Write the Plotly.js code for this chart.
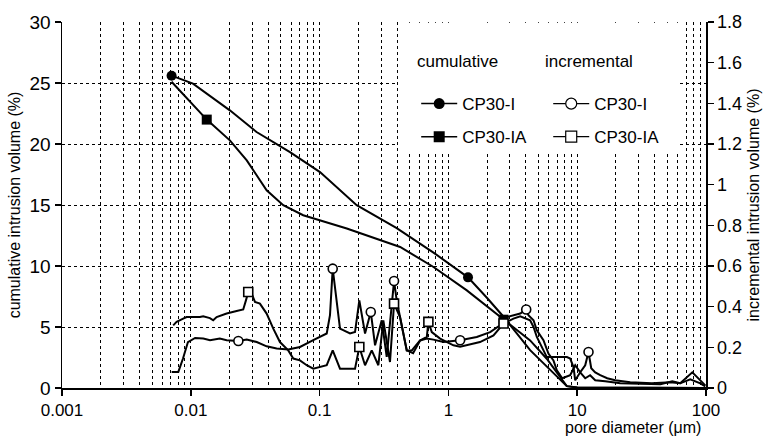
<!DOCTYPE html>
<html><head><meta charset="utf-8">
<script src="https://cdn.plot.ly/plotly-3.0.1.min.js"></script>
<style>html,body{margin:0;padding:0;background:#fff}#chart{width:767px;height:444px}</style>
</head><body><div id="chart"></div>
<script>
// ---- data (pore diameter in µm) ----
const cumIDiam   = [0.00709,0.0104,0.0201,0.0324,0.0589,0.1007,0.194,0.397,0.766,1.42,1.99,2.7,4.31,5.8,7.0,8.3,10,30,100];
const cumIVol    = [25.6,24.95,22.76,20.98,19.34,17.7,14.98,13.1,11.1,9.07,7.4,5.8,3.1,1.8,0.9,0.15,0.05,0,0];
const cumIMarks  = [0,9];

const cumIADiam  = [0.00709,0.0133,0.0201,0.0272,0.0388,0.0522,0.0746,0.1205,0.1626,0.422,0.766,1.39,1.99,2.68,3.2,4.31,5.8,7.0,8.3,10,30,100];
const cumIAVol   = [25.1,22.0,20.3,18.66,16.2,14.98,14.16,13.48,13.07,11.56,9.92,8.0,6.7,5.6,5.0,3.9,2.4,1.2,0.15,0.05,0,0];
const cumIAMarks = [1,13];

const incIDiam = [0.0071,0.0080,0.0087,0.0095,0.0108,0.0125,0.0141,0.0168,0.0190,0.0234,0.0272,0.0325,0.0388,0.0464,0.0571,0.0704,0.0893,0.1068,0.1136,0.1204,0.1264,0.144,0.1528,0.1723,0.1884,0.2034,0.2253,0.2496,0.2695,0.3037,0.332,0.3785,0.397,0.475,0.52,0.603,0.68,0.765,0.915,1.233,1.66,2.11,2.52,2.84,3.61,4.02,4.18,4.58,4.86,5.47,5.98,6.54,6.95,7.65,8.82,9.65,10.55,11.54,12.24,12.85,13.8,15.1,17.1,19.7,25.8,38,52.8,63.1,78.3,90.3,98.8];
const incIVol  = [0.079,0.079,0.145,0.226,0.246,0.243,0.235,0.243,0.235,0.231,0.238,0.226,0.205,0.194,0.189,0.202,0.235,0.259,0.268,0.358,0.587,0.292,0.284,0.268,0.275,0.431,0.268,0.374,0.21,0.333,0.153,0.526,0.431,0.185,0.185,0.234,0.243,0.238,0.226,0.235,0.251,0.275,0.308,0.349,0.366,0.386,0.358,0.333,0.284,0.235,0.169,0.136,0.087,0.048,0.063,0.112,0.077,0.112,0.177,0.097,0.077,0.063,0.048,0.038,0.028,0.023,0.028,0.023,0.077,0.038,0.013];
const incIMarks = [9,20,27,31,39,45,58];

const incIADiam = [0.0073,0.00776,0.00873,0.00928,0.01177,0.01248,0.01407,0.01493,0.01587,0.01897,0.02269,0.02553,0.0268,0.02793,0.02968,0.0315,0.0344,0.0388,0.0437,0.0492,0.0571,0.0625,0.0704,0.0794,0.0893,0.1007,0.1136,0.1264,0.144,0.1624,0.1884,0.2034,0.2253,0.254,0.2858,0.3125,0.352,0.3785,0.421,0.475,0.532,0.603,0.68,0.699,0.743,0.862,1.094,1.233,1.39,1.76,2.24,2.68,3.2,3.61,4.31,4.58,4.86,5.81,8.32,8.82,9.36,9.65,10.55,11.54,12.6,13.8,16.5,21.6,44.3,54.7,63.1,75.5,90.3,98.8];
const incIAVol  = [0.308,0.325,0.341,0.349,0.349,0.353,0.344,0.333,0.349,0.366,0.379,0.386,0.431,0.472,0.464,0.423,0.415,0.366,0.292,0.226,0.185,0.145,0.136,0.112,0.095,0.103,0.112,0.185,0.095,0.095,0.095,0.202,0.112,0.185,0.112,0.333,0.128,0.415,0.349,0.185,0.171,0.234,0.251,0.325,0.275,0.243,0.21,0.203,0.21,0.226,0.259,0.317,0.341,0.353,0.333,0.30,0.251,0.152,0.152,0.145,0.103,0.038,0.077,0.048,0.063,0.038,0.033,0.023,0.018,0.033,0.023,0.043,0.023,0.008];
const incIAMarks = [13,31,37,43,51];

const xTickVals  = [0.001,0.01,0.1,1,10,100];
const xTickText  = ['0.001','0.01','0.1','1','10','100'];
const yTickVals  = [0,5,10,15,20,25,30];
const y2TickVals = [0,0.2,0.4,0.6,0.8,1,1.2,1.4,1.6,1.8];
const y2TickText = ['0','0.2','0.4','0.6','0.8','1','1.2','1.4','1.6','1.8'];

// ---- build ----
const pick = (arr, idx) => idx.map(i => arr[i]);
const FONT = 'Liberation Sans, Arial, sans-serif';
const minorX = [];
for (let e = -3; e < 2; e++) for (let m = (e === -3 ? 2 : 1); m <= 9; m++) minorX.push(+(m * Math.pow(10, e)).toPrecision(3));

const lineStyle = {color: '#000', width: 2};
const traces = [
  {x: incIDiam, y: incIVol, yaxis: 'y2', mode: 'lines', line: lineStyle, showlegend: false, hoverinfo: 'skip'},
  {x: pick(incIDiam, incIMarks), y: pick(incIVol, incIMarks), yaxis: 'y2', mode: 'markers', showlegend: false,
   marker: {symbol: 'circle', size: 9, color: '#fff', line: {color: '#000', width: 1.6}}},
  {x: incIADiam, y: incIAVol, yaxis: 'y2', mode: 'lines', line: lineStyle, showlegend: false, hoverinfo: 'skip'},
  {x: pick(incIADiam, incIAMarks), y: pick(incIAVol, incIAMarks), yaxis: 'y2', mode: 'markers', showlegend: false,
   marker: {symbol: 'square', size: 9, color: '#fff', line: {color: '#000', width: 1.6}}},
  {x: cumIDiam, y: cumIVol, mode: 'lines', line: lineStyle, showlegend: false},
  {x: pick(cumIDiam, cumIMarks), y: pick(cumIVol, cumIMarks), mode: 'markers', showlegend: false,
   marker: {symbol: 'circle', size: 10, color: '#000'}},
  {x: cumIADiam, y: cumIAVol, mode: 'lines', line: lineStyle, showlegend: false},
  {x: pick(cumIADiam, cumIAMarks), y: pick(cumIAVol, cumIAMarks), mode: 'markers', showlegend: false,
   marker: {symbol: 'square', size: 10, color: '#000'}},
  // legend entries
  {x: [null], y: [null], name: 'CP30-I', legend: 'legend', legendgroup: 'a', mode: 'lines+markers', line: {color: '#000', width: 1.5},
   marker: {symbol: 'circle', size: 11, color: '#000'}},
  {x: [null], y: [null], name: 'CP30-IA', legend: 'legend', legendgroup: 'b', mode: 'lines+markers', line: {color: '#000', width: 1.5},
   marker: {symbol: 'square', size: 11, color: '#000'}},
  {x: [null], y: [null], name: 'CP30-I', legend: 'legend2', legendgroup: 'c', mode: 'lines+markers', line: {color: '#000', width: 1.2},
   marker: {symbol: 'circle', size: 11, color: '#fff', line: {color: '#000', width: 1.2}}},
  {x: [null], y: [null], name: 'CP30-IA', legend: 'legend2', legendgroup: 'd', mode: 'lines+markers', line: {color: '#000', width: 1.2},
   marker: {symbol: 'square', size: 11, color: '#fff', line: {color: '#000', width: 1.2}}}
];

const gridMinor = {showgrid: true, gridcolor: '#000', gridwidth: 1, griddash: '3px,3px', ticks: ''};
const legendCommon = {xanchor: 'left', yanchor: 'top', bgcolor: 'rgba(0,0,0,0)', font: {family: FONT, size: 17, color: '#000'},
  tracegroupgap: 8, itemwidth: 36, traceorder: 'grouped'};

const layout = {
  width: 767, height: 444,
  margin: {l: 62, r: 61, t: 22, b: 56},
  paper_bgcolor: '#fff', plot_bgcolor: '#fff',
  font: {family: FONT, size: 17, color: '#000'},
  xaxis: {type: 'log', range: [-3, 2], tickvals: xTickVals, ticktext: xTickText, ticks: 'outside', ticklen: 6, tickwidth: 1.5,
    tickcolor: '#000', showline: true, linecolor: '#000', linewidth: 1.5, showgrid: false, zeroline: false,
    minor: Object.assign({tickvals: minorX}, gridMinor), tickfont: {size: 17}},
  yaxis: {range: [0, 30], tickvals: yTickVals, ticks: 'outside', ticklen: 6, tickwidth: 1.5, tickcolor: '#000', showline: true,
    linecolor: '#000', linewidth: 1.5, showgrid: false, zeroline: false,
    minor: Object.assign({tickvals: [5, 10, 15, 20, 25]}, gridMinor), tickfont: {size: 19},
    title: {text: 'cumulative intrusion volume (%)', font: {size: 16}, standoff: 5}},
  yaxis2: {overlaying: 'y', side: 'right', range: [0, 1.8], tickvals: y2TickVals, ticktext: y2TickText, ticks: 'outside', ticklen: 6,
    tickwidth: 1.5, tickcolor: '#000', showline: true, linecolor: '#000', linewidth: 1.5, showgrid: false, zeroline: false,
    tickfont: {size: 18}, title: {text: 'incremental intrusion volume (%)', font: {size: 16}, standoff: 6}},
  legend: Object.assign({x: 0.55, y: 0.825}, legendCommon),
  legend2: Object.assign({x: 0.755, y: 0.825}, legendCommon),
  shapes: [{type: 'rect', xref: 'paper', yref: 'paper', x0: 0.5217, x1: 0.957, y0: 0.647, y1: 0.998, fillcolor: '#fff', line: {width: 0}, layer: 'above'}],
  annotations: [
    {text: 'cumulative', xref: 'paper', yref: 'paper', x: 0.548, y: 0.893, xanchor: 'left', yanchor: 'middle', showarrow: false, font: {size: 17}},
    {text: 'incremental', xref: 'paper', yref: 'paper', x: 0.747, y: 0.893, xanchor: 'left', yanchor: 'middle', showarrow: false, font: {size: 17}},
    {text: 'pore diameter (\u03bcm)', xref: 'paper', yref: 'paper', x: 0.995, y: -0.109, xanchor: 'right', yanchor: 'middle', showarrow: false, font: {size: 16}}
  ]
};

Plotly.newPlot('chart', traces, layout, {displayModeBar: false, staticPlot: true});
</script>
</body></html>
